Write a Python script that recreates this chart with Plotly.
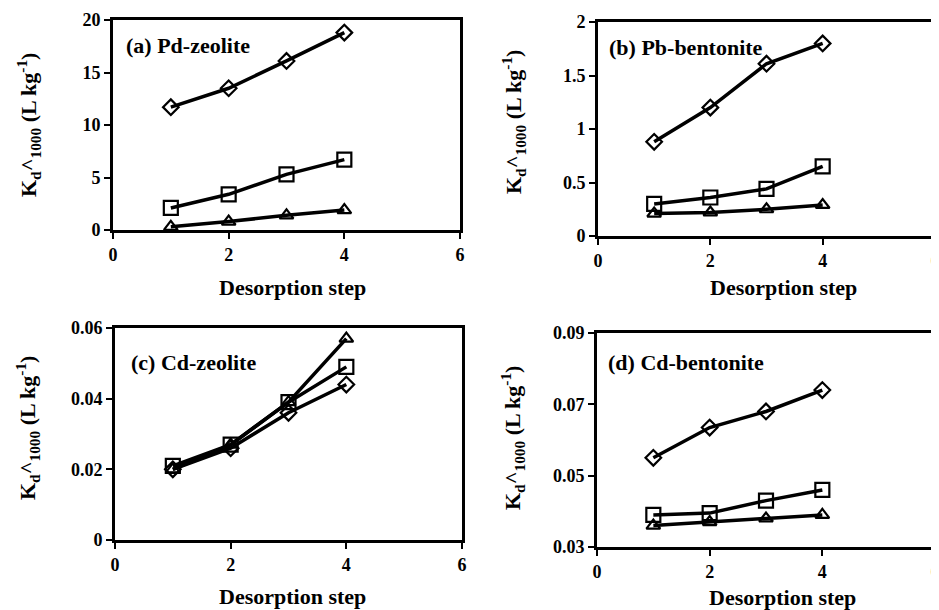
import plotly.graph_objects as go

steps = [1, 2, 3, 4]

# (a) Pd-zeolite
a_diamond = [11.7, 13.5, 16.1, 18.8]
a_square = [2.1, 3.4, 5.3, 6.7]
a_triangle = [0.3, 0.8, 1.4, 1.9]

# (b) Pb-bentonite
b_diamond = [0.88, 1.2, 1.61, 1.8]
b_square = [0.3, 0.36, 0.44, 0.65]
b_triangle = [0.21, 0.22, 0.25, 0.29]

# (c) Cd-zeolite
c_diamond = [0.020, 0.026, 0.036, 0.044]
c_square = [0.021, 0.027, 0.039, 0.049]
c_triangle = [0.020, 0.027, 0.039, 0.057]

# (d) Cd-bentonite
d_diamond = [0.055, 0.0635, 0.068, 0.074]
d_square = [0.039, 0.0395, 0.043, 0.046]
d_triangle = [0.036, 0.037, 0.038, 0.039]

panel_labels = ["(a) Pd-zeolite", "(b) Pb-bentonite", "(c) Cd-zeolite", "(d) Cd-bentonite"]
x_ticks = [0, 2, 4, 6]
x_ticktext = ["0", "2", "4", "6"]
y_ticks = [[0, 5, 10, 15, 20], [0, 0.5, 1, 1.5, 2], [0, 0.02, 0.04, 0.06], [0.03, 0.05, 0.07, 0.09]]
y_ticktext = [["0", "5", "10", "15", "20"], ["0", "0.5", "1", "1.5", "2"],
              ["0", "0.02", "0.04", "0.06"], ["0.03", "0.05", "0.07", "0.09"]]
y_ranges = [[0, 20], [0, 2], [0, 0.06], [0.03, 0.09]]
x_title = "Desorption step"
y_title = "K<sub>d</sub>^<sub>1000</sub> (L kg<sup>-1</sup>)"

# page body has an 8px margin: work in window pixels and shift by OFF
OFF = 8
W, H = 939 - OFF, 610 - OFF
# pixel boxes in window coords: left, right, top, bottom
boxes = [(113, 460, 20, 230), (598, 935, 22, 236), (115, 462, 328, 540), (597, 935, 333, 547)]
label_pos = [(125, 45), (608, 47), (130, 362), (607, 362)]
xtitle_pos = [(292, 287), (783, 288), (292, 596), (782, 597)]
ytitle_pos = [(28, 125), (513, 122), (27, 428), (512, 438)]

FONT = "Liberation Serif"


def px(x):
    return (x - OFF) / W


def py(y):
    return 1 - (y - OFF) / H


fig = go.Figure()
data_sets = [(a_diamond, a_square, a_triangle), (b_diamond, b_square, b_triangle),
             (c_diamond, c_square, c_triangle), (d_diamond, d_square, d_triangle)]

layout = dict()
annotations = []
for i, (dia, sq, tri) in enumerate(data_sets):
    n = "" if i == 0 else str(i + 1)
    xa, ya = "x" + n, "y" + n
    for vals, sym, size in [(dia, "diamond-open", 12), (sq, "square-open", 14), (tri, "triangle-up-open", 12)]:
        fig.add_trace(go.Scatter(
            x=steps, y=vals, xaxis=xa, yaxis=ya, mode="lines+markers",
            line=dict(color="black", width=3.5),
            marker=dict(symbol=sym, size=size, color="black", line=dict(width=2.2, color="black")),
            showlegend=False, cliponaxis=False))
    l, r, t, b = boxes[i]
    tickfont = dict(family=FONT, size=18, color="black", weight="bold")
    layout["xaxis" + n] = dict(
        domain=[px(l), px(r)], range=[0, 6], tickvals=x_ticks,
        ticktext=["<b>%s</b>" % s for s in x_ticktext], anchor=ya, automargin=False,
        ticklabeloverflow="allow",
        showline=True, mirror=True, linecolor="black", linewidth=3,
        ticks="outside", ticklen=6, tickwidth=2, tickcolor="black",
        showgrid=False, zeroline=False, tickfont=tickfont)
    layout["yaxis" + n] = dict(
        domain=[py(b), py(t)], range=y_ranges[i], tickvals=y_ticks[i],
        ticktext=["<b>%s</b>" % s for s in y_ticktext[i]], automargin=False,
        ticklabeloverflow="allow",
        anchor=xa, showline=True, mirror=True, linecolor="black", linewidth=3,
        ticks="outside", ticklen=6, tickwidth=2, tickcolor="black",
        showgrid=False, zeroline=False, tickfont=tickfont)
    lx, ly = label_pos[i]
    annotations.append(dict(
        text="<b>%s</b>" % panel_labels[i], xref="paper", yref="paper", x=px(lx), y=py(ly),
        xanchor="left", yanchor="middle", showarrow=False, borderpad=0,
        font=dict(family=FONT, size=22, color="black")))
    xp, yp = xtitle_pos[i]
    annotations.append(dict(
        text="<b>%s</b>" % x_title, xref="paper", yref="paper",
        x=px(xp), y=py(yp), xanchor="center", yanchor="middle", showarrow=False,
        font=dict(family=FONT, size=22, color="black")))
    xp, yp = ytitle_pos[i]
    annotations.append(dict(
        text="<b>%s</b>" % y_title, xref="paper", yref="paper",
        x=px(xp), y=py(yp), textangle=-90,
        xanchor="center", yanchor="middle", showarrow=False,
        font=dict(family=FONT, size=22, color="black")))

fig.update_layout(**layout)
fig.update_layout(
    width=W, height=H, margin=dict(l=0, r=0, t=0, b=0, autoexpand=False),
    paper_bgcolor="white", plot_bgcolor="white",
    annotations=annotations)

fig.write_html("out.html")
